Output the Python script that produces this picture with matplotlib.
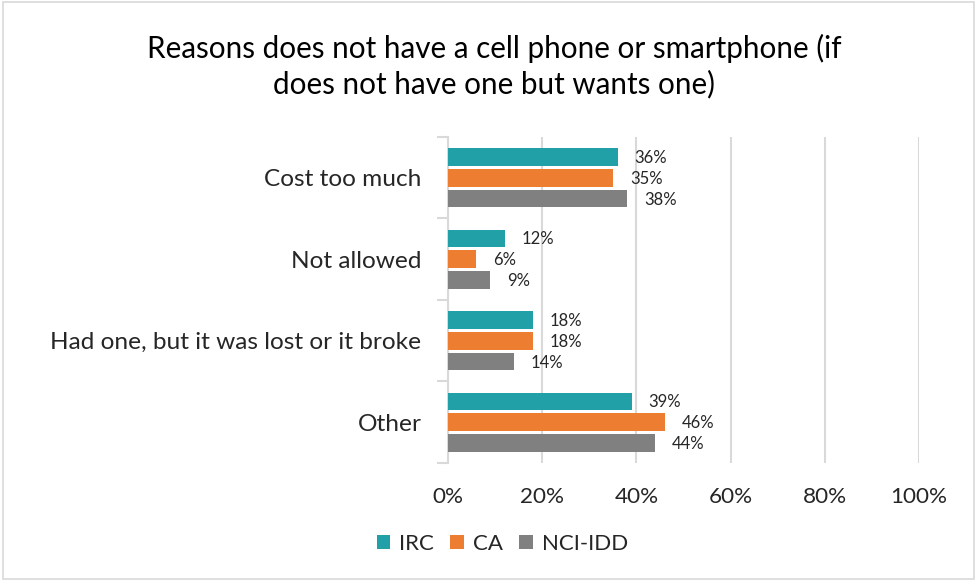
import numpy as np
import matplotlib
matplotlib.use('Agg')
import matplotlib.pyplot as plt
from matplotlib.patches import Rectangle

categories = ['Cost too much', 'Not allowed',
              'Had one, but it was lost or it broke', 'Other']
series = ['IRC', 'CA', 'NCI-IDD']
irc = [36, 12, 18, 39]
ca = [35, 6, 18, 46]
nci_idd = [38, 9, 14, 44]
x_ticks = [0, 20, 40, 60, 80, 100]

colors = ['#21A0A8', '#ED7D31', '#808080']
grid_color = '#D9D9D9'

plt.rcParams['font.family'] = ['Lato', 'DejaVu Sans']

fig = plt.figure(figsize=(9.79, 5.81), dpi=100)
ax = fig.add_axes([0.4576, 0.2031, 0.4811, 0.5611])

y = np.arange(len(categories))
offsets = [-0.255, 0, 0.255]
bar_h = 0.22
for vals, off, col, name in zip([irc, ca, nci_idd], offsets, colors, series):
    bars = ax.barh(y + off, vals, height=bar_h, color=col, label=name, zorder=3)
    for b, v in zip(bars, vals):
        ax.annotate(f'{v}%', (b.get_width(), b.get_y() + b.get_height() / 2),
                    xytext=(17, -1), textcoords='offset pixels',
                    va='center', ha='left', fontsize=12, color='#262626')

ax.set_xlim(0, 100)
ax.set_ylim(len(categories) - 0.5, -0.5)
ax.set_xticks(x_ticks)
ax.set_xticklabels([f'{t}%' for t in x_ticks])
ax.set_yticks(y)
ax.set_yticklabels(categories)
ax.set_yticks(np.arange(len(categories) + 1) - 0.5, minor=True)

ax.grid(axis='x', color=grid_color, linewidth=1.5, zorder=0)
for s in ['top', 'right', 'bottom']:
    ax.spines[s].set_visible(False)
ax.spines['left'].set_color(grid_color)
ax.spines['left'].set_linewidth(1.5)

ax.tick_params(axis='x', length=0, labelsize=16.2, colors='#262626', pad=17)
ax.tick_params(axis='y', which='major', length=0, labelsize=17.6, colors='#262626', pad=19)
ax.tick_params(axis='y', which='minor', length=8, width=1.5, color=grid_color)

fig.text(0.505, 0.886, 'Reasons does not have a cell phone or smartphone (if\ndoes not have one but wants one)',
         ha='center', va='center', fontsize=21.3, color='#000000', linespacing=1.25)

fig.legend(loc='center', bbox_to_anchor=(0.513, 0.064), ncol=3, frameon=False,
           fontsize=16, handlelength=0.6, handleheight=0.6, handletextpad=0.4,
           columnspacing=0.75, labelcolor='#262626')

fig.patches.append(Rectangle((0.003, 0.004), 0.992, 0.992, transform=fig.transFigure,
                             fill=False, edgecolor=grid_color, linewidth=1.2))

fig.savefig('out.png', dpi=100, facecolor='white')
